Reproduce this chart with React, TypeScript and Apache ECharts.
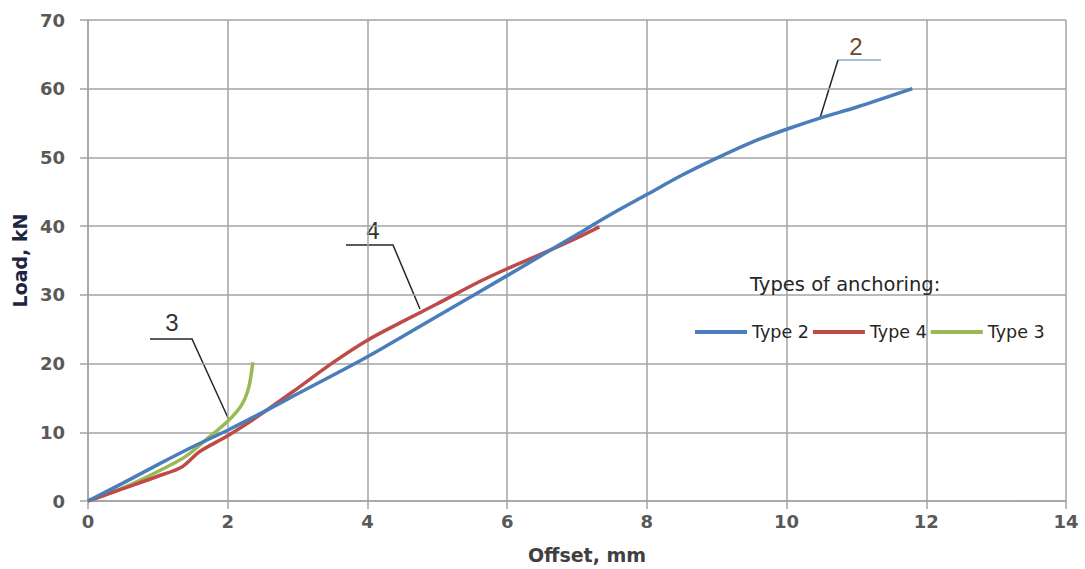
import React, { useEffect, useRef } from "react";
import * as echarts from "echarts";

const xTicks = [0, 2, 4, 6, 8, 10, 12, 14];
const yTicks = [0, 10, 20, 30, 40, 50, 60, 70];

const type2Offset = [0, 0.5, 1, 1.5, 2, 2.5, 3, 4, 5, 6, 6.4, 7, 7.5, 8, 8.5, 9, 9.5, 10, 10.5, 11, 11.8];
const type2Load = [0, 2.6, 5.3, 7.9, 10.3, 12.9, 15.6, 21, 26.9, 32.8, 35.2, 38.8, 41.8, 44.6, 47.4, 49.9, 52.2, 54.1, 55.8, 57.3, 60];

const type4Offset = [0, 0.5, 1, 1.35, 1.6, 2, 2.5, 3, 3.5, 4, 4.5, 5, 5.6, 6, 6.5, 7, 7.32];
const type4Load = [0, 1.8, 3.6, 5, 7.2, 9.5, 12.8, 16.4, 20.1, 23.4, 26.1, 28.7, 31.9, 33.8, 36, 38.3, 39.9];

const type3Offset = [0, 0.5, 1, 1.4, 1.7, 2, 2.2, 2.3, 2.36];
const type3Load = [0, 1.9, 4.3, 6.5, 9, 11.6, 14, 16.5, 20.2];

const seriesNames = ["Type 2", "Type 4", "Type 3"];
const seriesColors = ["#4A7EBB", "#BE4B48", "#98B954"];

const pairs = (xs: number[], ys: number[]) => xs.map((x, i) => [x, ys[i]]);

export default function App() {
  const ref = useRef<HTMLDivElement>(null);
  useEffect(() => {
    if (!ref.current) return;
    const chart = echarts.init(ref.current, undefined, { renderer: "svg" });
    const gridColor = "#A3A3A3";
    const dejavu = "'DejaVu Sans', Verdana, sans-serif";
    const leader = (pts: number[][], color = "#262626", width = 1.5) => ({
      type: "polyline",
      shape: { points: pts },
      style: { stroke: color, lineWidth: width, fill: "none" },
      silent: true,
    });
    const digit = (text: string, x: number, y: number, color = "#333333") => ({
      type: "text",
      x,
      y,
      style: {
        text,
        fontSize: 24,
        fontFamily: "'Liberation Sans', Arial, sans-serif",
        fill: color,
        textAlign: "center",
        textVerticalAlign: "middle",
      },
      silent: true,
    });
    chart.setOption({
      animation: false,
      backgroundColor: "#ffffff",
      grid: { left: 88, right: 19, top: 20, bottom: 67, containLabel: false },
      title: {
        text: "Types of anchoring:",
        left: 750,
        top: 274,
        padding: 0,
        textStyle: {
          fontSize: 19.5,
          fontWeight: "normal",
          color: "#262626",
          fontFamily: dejavu,
        },
      },
      legend: {
        left: 695,
        top: 323,
        padding: 0,
        icon: "rect",
        itemWidth: 52,
        itemHeight: 4,
        itemGap: 4,
        data: seriesNames,
        textStyle: {
          fontSize: 17.5,
          color: "#262626",
          fontFamily: dejavu,
        },
      },
      xAxis: {
        type: "value",
        min: xTicks[0],
        max: xTicks[xTicks.length - 1],
        interval: 2,
        name: "Offset, mm",
        nameLocation: "middle",
        nameGap: 44,
        nameTextStyle: {
          fontSize: 19,
          fontWeight: "bold",
          color: "#404040",
          fontFamily: dejavu,
          padding: [0, 0, 0, 20],
        },
        axisLine: { show: true, lineStyle: { color: gridColor, width: 1.5 } },
        axisTick: { show: true, length: 8, lineStyle: { color: gridColor, width: 1.5 } },
        axisLabel: { margin: 11, fontSize: 18, fontWeight: "bold", color: "#595959", fontFamily: dejavu },
        splitLine: { show: true, lineStyle: { color: gridColor, width: 1.5 } },
      },
      yAxis: {
        type: "value",
        min: yTicks[0],
        max: yTicks[yTicks.length - 1],
        interval: 10,
        name: "Load, kN",
        nameLocation: "middle",
        nameGap: 57,
        nameTextStyle: { fontSize: 19, fontWeight: "bold", color: "#1F2440", fontFamily: dejavu },
        axisLine: { show: true, lineStyle: { color: gridColor, width: 1.5 } },
        axisTick: { show: true, length: 8, lineStyle: { color: gridColor, width: 1.5 } },
        axisLabel: { margin: 23, fontSize: 18, fontWeight: "bold", color: "#595959", fontFamily: dejavu },
        splitLine: { show: true, lineStyle: { color: gridColor, width: 1.5 } },
      },
      series: [
        { name: seriesNames[0], data: pairs(type2Offset, type2Load) },
        { name: seriesNames[1], data: pairs(type4Offset, type4Load) },
        { name: seriesNames[2], data: pairs(type3Offset, type3Load) },
      ].map((s, i) => ({
        ...s,
        type: "line",
        smooth: 0.3,
        showSymbol: false,
        symbol: "none",
        color: seriesColors[i],
        lineStyle: { width: 3.5, color: seriesColors[i] },
        z: 3 - i,
      })),
      graphic: [
        leader([[838, 60], [881, 60]], "#4A7EBB", 1.2),
        leader([[838, 60], [820, 118]]),
        digit("2", 856, 46, "#6B4C2E"),
        leader([[346, 245], [393, 245], [420, 309]]),
        digit("4", 373, 230),
        leader([[150, 339], [192, 339], [229, 420]]),
        digit("3", 172, 322),
      ],
    });
    return () => chart.dispose();
  }, []);
  return (
    <div
      ref={ref}
      style={{ position: "fixed", left: 0, top: 0, width: 1085, height: 569, background: "#fff" }}
    />
  );
}
